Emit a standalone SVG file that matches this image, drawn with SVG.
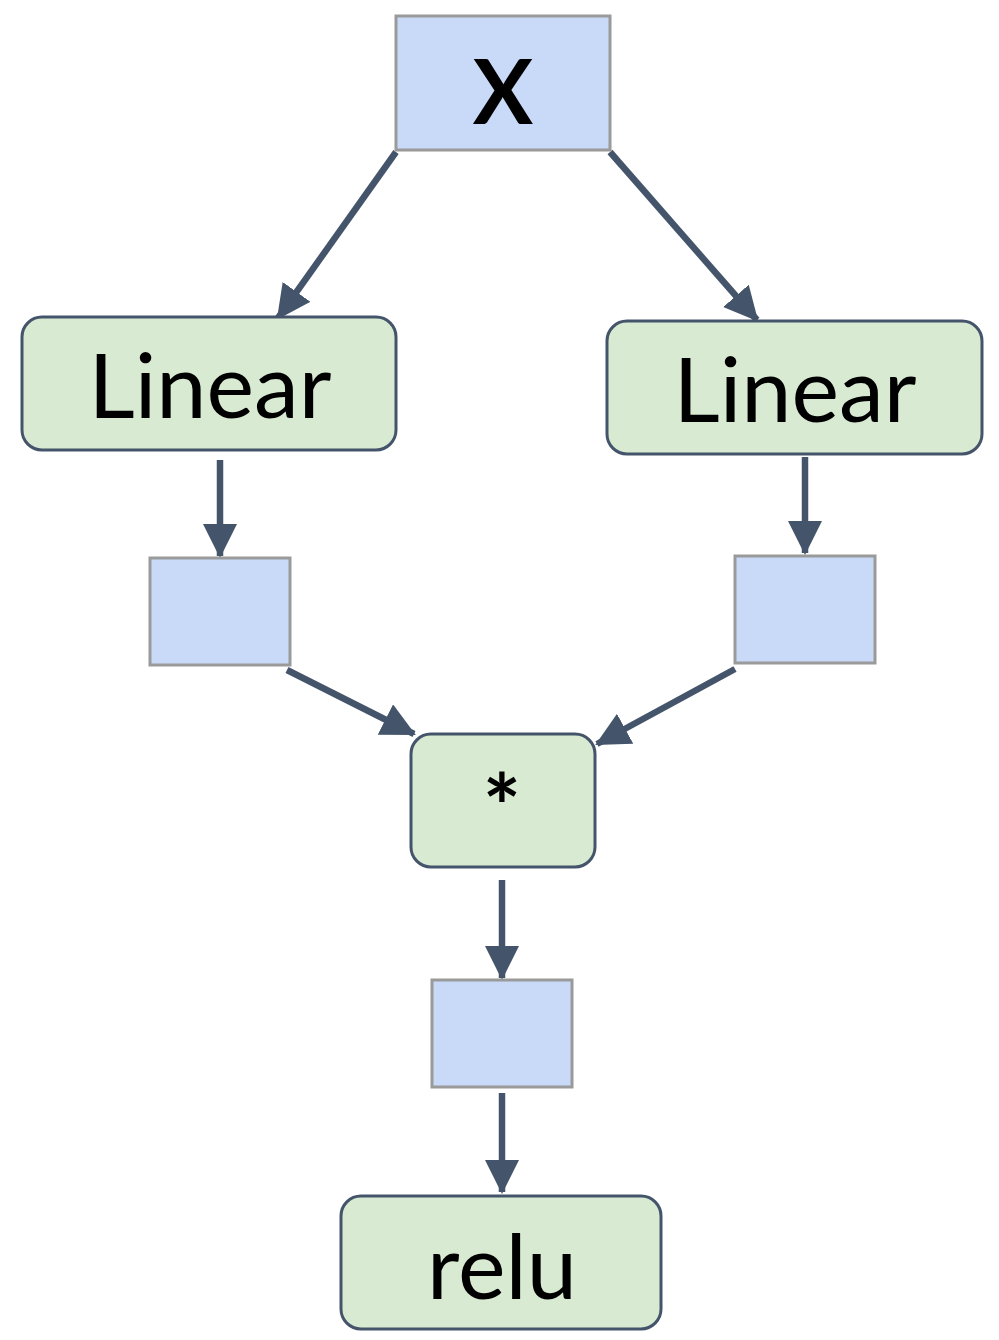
<svg xmlns="http://www.w3.org/2000/svg" width="999" height="1340" viewBox="0 0 999 1340">
<defs>
<style>
.t{fill:#c9daf8;stroke:#9a9a9a;stroke-width:3}
.op{fill:#d9ead3;stroke:#44546a;stroke-width:3}
.lbl{font-family:Lato,"Open Sans",sans-serif;font-size:90px;fill:#000;text-anchor:middle}
.b{font-weight:bold}
.c{stroke:#44546a;stroke-width:6.5;fill:none;marker-end:url(#ah)}
</style>
<marker id="ah" markerUnits="userSpaceOnUse" markerWidth="34" markerHeight="34" viewBox="0 0 34 34" refX="32" refY="17" orient="auto">
<path d="M0,0 L34,17 L0,34 Z" fill="#44546a"/>
</marker>
</defs>
<rect width="999" height="1340" fill="#fff"/>
<g id="connectors">
<line class="c" x1="396" y1="152" x2="278" y2="318"/>
<line class="c" x1="610" y1="152" x2="757" y2="320"/>
<line class="c" x1="220" y1="460" x2="220" y2="556"/>
<line class="c" x1="805" y1="457" x2="805" y2="553"/>
<line class="c" x1="287" y1="670" x2="414" y2="734"/>
<line class="c" x1="735" y1="669" x2="597" y2="744"/>
<line class="c" x1="502" y1="880" x2="502" y2="978"/>
<line class="c" x1="502" y1="1093" x2="502" y2="1192"/>
</g>
<g id="x"><rect class="t" x="396" y="16" width="214" height="134"/><text class="lbl b" x="503" y="124" font-size="84">X</text></g>
<g id="linear1"><rect class="op" x="22" y="317" width="374" height="133" rx="20"/><text class="lbl" x="210" y="418">Linear</text></g>
<g id="linear2"><rect class="op" x="607" y="321" width="375" height="133" rx="20"/><text class="lbl" x="795" y="422">Linear</text></g>
<g id="t1"><rect class="t" x="150" y="558" width="140" height="107"/></g>
<g id="t2"><rect class="t" x="735" y="556" width="140" height="107"/></g>
<g id="mul"><rect class="op" x="411" y="734" width="184" height="133" rx="20"/><text class="lbl b" x="502" y="840" font-size="104">*</text></g>
<g id="t3"><rect class="t" x="432" y="980" width="140" height="107"/></g>
<g id="relu"><rect class="op" x="341" y="1196" width="320" height="133" rx="20"/><text class="lbl" x="502" y="1299">relu</text></g>
</svg>
